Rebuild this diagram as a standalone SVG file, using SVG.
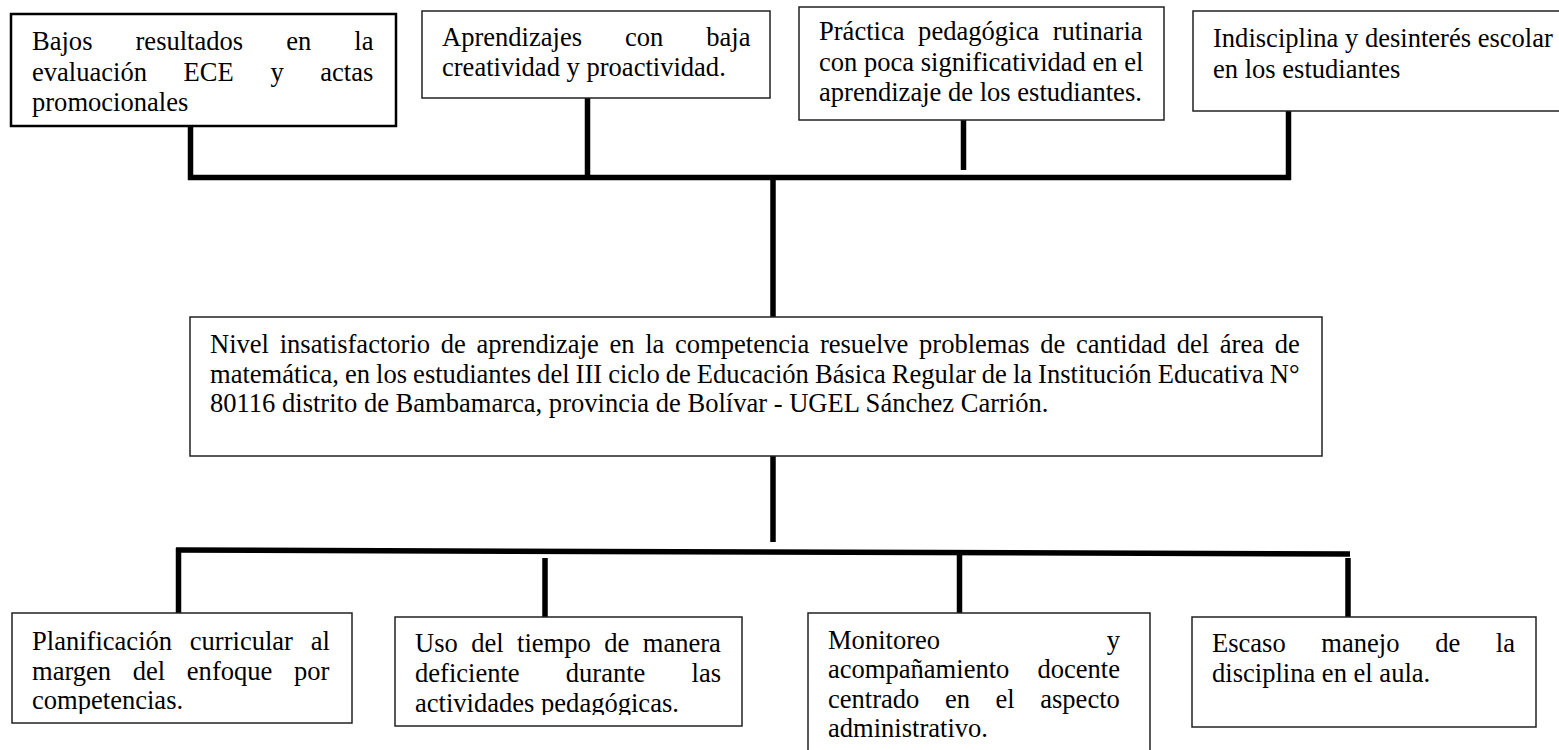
<svg xmlns="http://www.w3.org/2000/svg" width="1559" height="750" viewBox="0 0 1559 750">
<style>
  .box { fill: #ffffff; stroke: #222222; stroke-width: 1.5; }
  .box1 { fill: #ffffff; stroke: #000000; stroke-width: 2.5; }
  .t { font-family: "Liberation Serif", "Times New Roman", serif; font-size: 26.55px; fill: #000000; }
  .e { text-anchor: end; }
  .c { stroke: #000000; stroke-width: 5.5; fill: none; stroke-linecap: butt; }
</style>
<defs>
  <clipPath id="clipB1"><rect x="12" y="613" width="340" height="101"/></clipPath>
  <clipPath id="clipB2"><rect x="395" y="617" width="347" height="98"/></clipPath>
</defs>
<rect x="0" y="0" width="1559" height="750" fill="#ffffff"/>

<g id="connectors">
  <line class="c" x1="190.5" y1="126" x2="190.5" y2="180"/>
  <line class="c" x1="188" y1="177.5" x2="1291" y2="177.5"/>
  <line class="c" x1="587.5" y1="94" x2="587.5" y2="177"/>
  <line class="c" x1="963.5" y1="120" x2="963.5" y2="170"/>
  <line class="c" x1="1288.5" y1="111" x2="1288.5" y2="180"/>
  <line class="c" x1="773" y1="177" x2="773" y2="317"/>
  <line class="c" x1="773" y1="456" x2="773" y2="542"/>
  <line class="c" x1="176" y1="550" x2="1350" y2="554"/>
  <line class="c" x1="178.5" y1="548" x2="178.5" y2="613"/>
  <line class="c" x1="545" y1="558" x2="545" y2="617"/>
  <line class="c" x1="959.5" y1="553" x2="959.5" y2="613"/>
  <line class="c" x1="1348" y1="558" x2="1348" y2="617"/>
</g>

<g id="node-top1">
  <rect class="box1" x="11" y="14" width="385" height="112"/>
  <text class="t" x="32" y="50" style="word-spacing:36.4px">Bajos resultados en la</text>
  <text class="t" x="32" y="80.5" style="word-spacing:30px">evaluación ECE y actas</text>
  <text class="t" x="32" y="111">promocionales</text>
</g>

<g id="node-top2">
  <rect class="box" x="422" y="11" width="348" height="87"/>
  <text class="t" x="442" y="46" style="word-spacing:36.3px">Aprendizajes con baja</text>
  <text class="t" x="442" y="75.5">creatividad y proactividad.</text>
</g>

<g id="node-top3">
  <rect class="box" x="799" y="7" width="365" height="113"/>
  <text class="t" x="819" y="40" style="word-spacing:7px">Práctica pedagógica rutinaria</text>
  <text class="t" x="819" y="70.5">con poca significatividad en el</text>
  <text class="t" x="819" y="101">aprendizaje de los estudiantes.</text>
</g>

<g id="node-top4">
  <rect class="box" x="1193" y="11" width="380" height="100"/>
  <text class="t" x="1213" y="47">Indisciplina y desinterés escolar</text>
  <text class="t" x="1213" y="77.5">en los estudiantes</text>
</g>

<g id="node-main">
  <rect class="box" x="190" y="317" width="1132" height="139"/>
  <text class="t" x="210" y="353" style="word-spacing:4.05px">Nivel insatisfactorio de aprendizaje en la competencia resuelve problemas de cantidad del área de</text>
  <text class="t" x="210" y="382.5" style="word-spacing:-0.6px">matemática, en los estudiantes del III ciclo de Educación Básica Regular de la Institución Educativa N°</text>
  <text class="t" x="210" y="412">80116 distrito de Bambamarca, provincia de Bolívar - UGEL Sánchez Carrión.</text>
</g>

<g id="node-bottom1">
  <rect class="box" x="12" y="613" width="340" height="110"/>
  <g clip-path="url(#clipB1)">
    <text class="t" x="32" y="650" style="word-spacing:11.1px">Planificación curricular al</text>
    <text class="t" x="32" y="680" style="word-spacing:15px">margen del enfoque por</text>
    <text class="t" x="32" y="709">competencias.</text>
  </g>
</g>

<g id="node-bottom2">
  <rect class="box" x="395" y="617" width="347" height="109"/>
  <g clip-path="url(#clipB2)">
    <text class="t" x="415" y="652" style="word-spacing:6.8px">Uso del tiempo de manera</text>
    <text class="t" x="415" y="682" style="word-spacing:39.5px">deficiente durante las</text>
    <text class="t" x="415" y="712">actividades pedagógicas.</text>
  </g>
</g>

<g id="node-bottom3">
  <rect class="box" x="808" y="613" width="342" height="150"/>
  <text class="t" x="828" y="649">Monitoreo</text>
  <text class="t e" x="1120" y="649">y</text>
  <text class="t" x="828" y="678">acompañamiento</text>
  <text class="t e" x="1120" y="678">docente</text>
  <text class="t" x="828" y="707.5" style="word-spacing:18.9px">centrado en el aspecto</text>
  <text class="t" x="828" y="737">administrativo.</text>
</g>

<g id="node-bottom4">
  <rect class="box" x="1192" y="617" width="344" height="110"/>
  <text class="t" x="1212" y="652" style="word-spacing:29px">Escaso manejo de la</text>
  <text class="t" x="1212" y="682">disciplina en el aula.</text>
</g>
</svg>
